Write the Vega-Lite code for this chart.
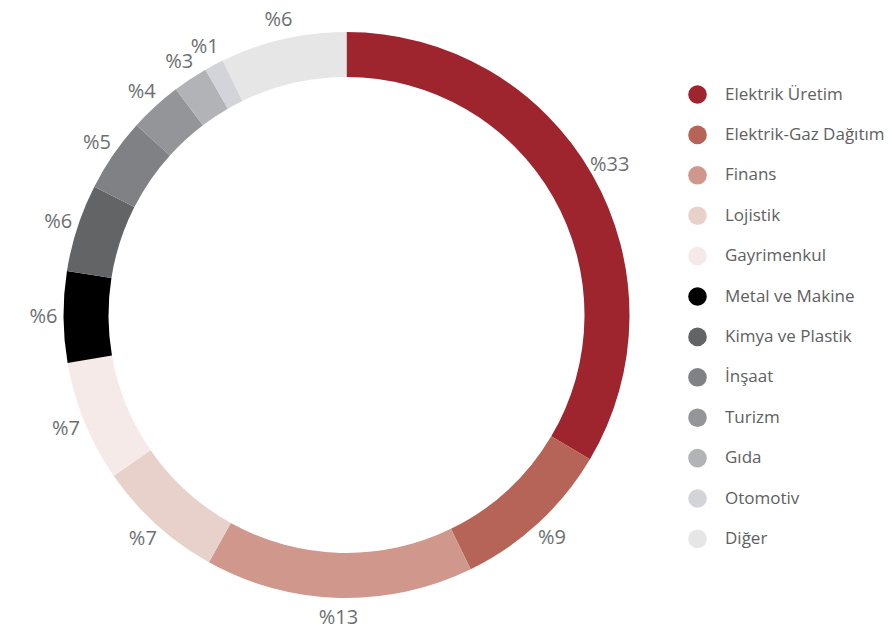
{
  "$schema": "https://vega.github.io/schema/vega-lite/v6.json",
  "autosize": "none",
  "width": 693,
  "height": 630,
  "padding": {"left": 0, "top": 0, "right": 199, "bottom": 0},
  "background": "white",
  "data": {
    "values": [
      {"sektor": "Elektrik Üretim", "pay": 33.5, "etiket": "%33", "sira": 1},
      {"sektor": "Elektrik-Gaz Dağıtım", "pay": 9.25, "etiket": "%9", "sira": 2},
      {"sektor": "Finans", "pay": 15.3, "etiket": "%13", "sira": 3},
      {"sektor": "Lojistik", "pay": 7.3, "etiket": "%7", "sira": 4},
      {"sektor": "Gayrimenkul", "pay": 6.9, "etiket": "%7", "sira": 5},
      {"sektor": "Metal ve Makine", "pay": 5.2, "etiket": "%6", "sira": 6},
      {"sektor": "Kimya ve Plastik", "pay": 5.0, "etiket": "%6", "sira": 7},
      {"sektor": "İnşaat", "pay": 4.2, "etiket": "%5", "sira": 8},
      {"sektor": "Turizm", "pay": 3.0, "etiket": "%4", "sira": 9},
      {"sektor": "Gıda", "pay": 2.0, "etiket": "%3", "sira": 10},
      {"sektor": "Otomotiv", "pay": 1.1, "etiket": "%1", "sira": 11},
      {"sektor": "Diğer", "pay": 7.2, "etiket": "%6", "sira": 12}
    ]
  },
  "encoding": {
    "theta": {"field": "pay", "type": "quantitative", "stack": true},
    "order": {"field": "sira", "type": "quantitative"}
  },
  "layer": [
    {
      "mark": {"type": "arc", "outerRadius": 283, "innerRadius": 238},
      "encoding": {
        "color": {
          "field": "sektor",
          "type": "nominal",
          "scale": {
            "domain": [
              "Elektrik Üretim",
              "Elektrik-Gaz Dağıtım",
              "Finans",
              "Lojistik",
              "Gayrimenkul",
              "Metal ve Makine",
              "Kimya ve Plastik",
              "İnşaat",
              "Turizm",
              "Gıda",
              "Otomotiv",
              "Diğer"
            ],
            "range": [
              "#9e242e",
              "#b66358",
              "#d0988c",
              "#e8d1cb",
              "#f5eae8",
              "#000000",
              "#636466",
              "#808184",
              "#939598",
              "#b2b3b6",
              "#d3d3da",
              "#e6e6e6"
            ]
          },
          "legend": {
            "title": null,
            "orient": "none",
            "legendX": 688,
            "legendY": 85,
            "symbolType": "circle",
            "symbolSize": 346,
            "symbolStrokeWidth": 0,
            "labelFont": "Open Sans",
            "labelFontSize": 17,
            "labelColor": "#5f6062",
            "labelOffset": 18,
            "rowPadding": 21.4,
            "labelLimit": 300
          }
        }
      }
    },
    {
      "mark": {
        "type": "text",
        "radius": 303,
        "font": "Open Sans",
        "fontSize": 20,
        "color": "#6d6e71",
        "align": "center",
        "baseline": "middle"
      },
      "encoding": {
        "detail": {"field": "sektor", "type": "nominal"},
        "text": {"field": "etiket", "type": "nominal"}
      }
    }
  ],
  "config": {"view": {"stroke": null}}
}
